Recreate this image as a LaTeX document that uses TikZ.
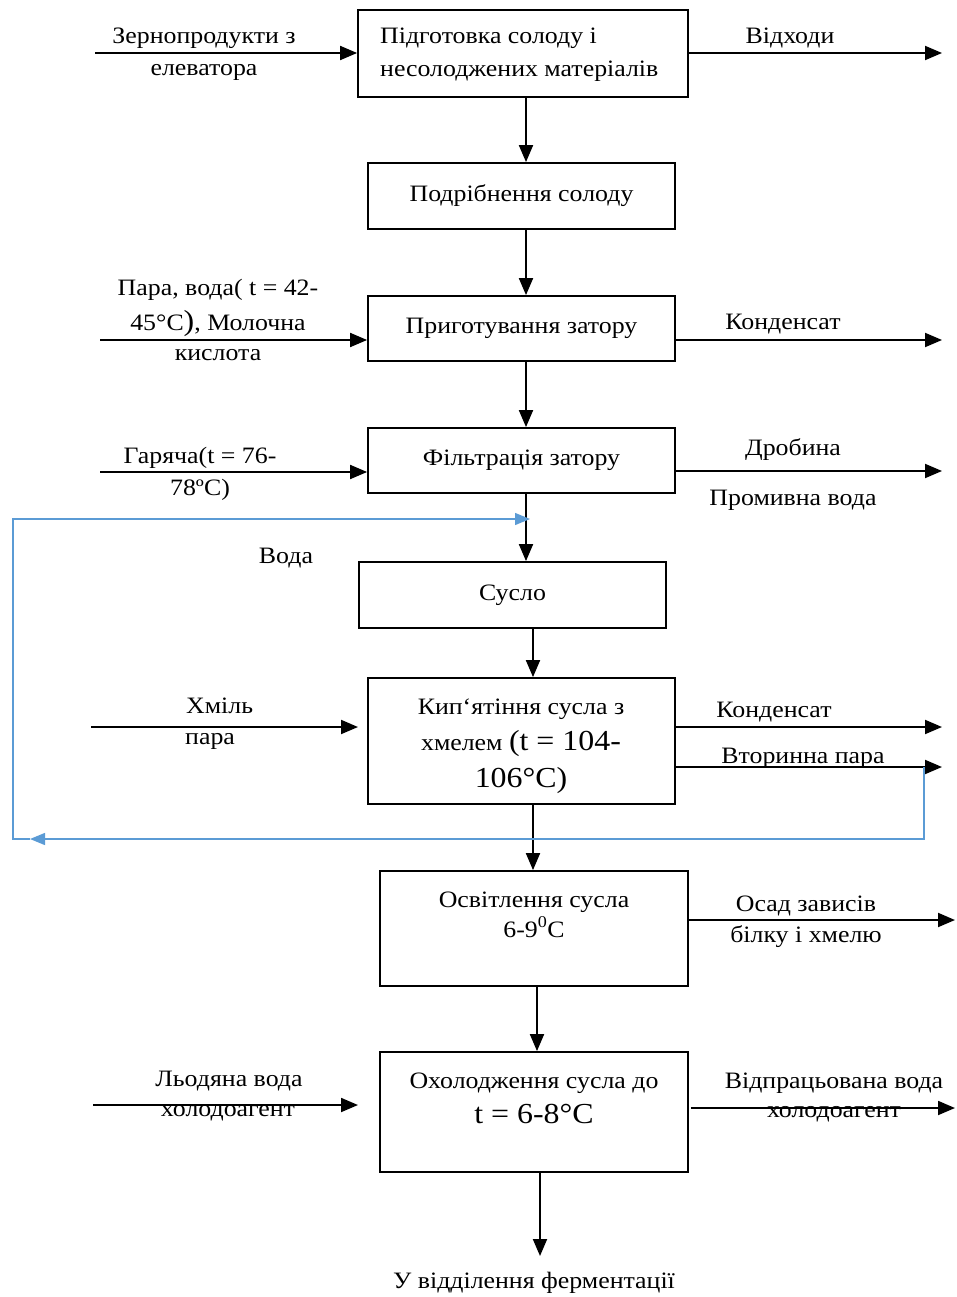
\documentclass[tikz,border=0pt]{standalone}
\usepackage{fontspec}
\setmainfont{Liberation Serif}[FakeStretch=1.1]
\usetikzlibrary{arrows.meta}
\newcommand{\fsn}{\fontsize{23.5}{34}\selectfont}
\newcommand{\fsb}{\fontsize{29}{34}\selectfont}
\definecolor{loopblue}{RGB}{91,155,213}
\begin{document}
\begin{tikzpicture}[x=1pt,y=-1pt,
  box/.style={draw,line width=1.8pt,inner sep=0pt,font=\fsn},
  arr/.style={line width=1.9pt,-{Triangle[length=17pt,width=14pt]}},
  barr/.style={line width=1.3pt,draw=loopblue,-{Triangle[length=15pt,width=12pt]}},
  lbl/.style={anchor=base,inner sep=0pt,font=\fsn},
  lblw/.style={anchor=base west,inner sep=0pt,font=\fsn}]
\useasboundingbox (0,0) rectangle (957,1297);

% boxes
\node[box,minimum width=330pt,minimum height=87pt] (b1) at (523,53.5) {};
\node[box,minimum width=307pt,minimum height=66pt] (b2) at (521.5,196) {Подрібнення солоду};
\node[box,minimum width=307pt,minimum height=65pt] (b3) at (521.5,328.5) {Приготування затору};
\node[box,minimum width=307pt,minimum height=65pt] (b4) at (521.5,460.5) {Фільтрація затору};
\node[box,minimum width=307pt,minimum height=66pt] (b5) at (512.5,595) {Сусло};
\node[box,minimum width=307pt,minimum height=126pt] (b6) at (521.5,741) {};
\node[box,minimum width=308pt,minimum height=115pt] (b7) at (534,928.5) {};
\node[box,minimum width=308pt,minimum height=120pt] (b8) at (534,1112) {};

% box texts
\node[lblw] (t1a) at (380,44) {Підготовка солоду і};
\node[lblw] (t1b) at (380,77) {несолоджених матеріалів};
\node[lbl] (t6a) at (521,714) {Кип‘ятіння сусла з};
\node[lbl] (t6b) at (521,750) {хмелем {\fsb(t = 104-}};
\node[lbl] (t6c) at (521,787) {\fsb 106°C)};
\node[lbl] (t7a) at (534,907) {Освітлення сусла};
\node[lbl] (t7b) at (534,937) {6-9\textsuperscript{0}C};
\node[lbl] (t8a) at (534,1088) {Охолодження сусла до};
\node[lbl] (t8b) at (534,1123) {\fsb t = 6-8°C};

% free ends
\coordinate (i1) at (95,53);
\coordinate (o1) at (942,53);
\coordinate (i3) at (100,340);
\coordinate (o3) at (942,340);
\coordinate (i4) at (100,472);
\coordinate (o4) at (942,471);
\coordinate (i6) at (91,727);
\coordinate (e6) at (358,727);
\coordinate (o6a) at (942,727);
\coordinate (o6b) at (942,767);
\coordinate (o7) at (955,920);
\coordinate (i8) at (93,1105);
\coordinate (e8) at (358,1105);
\coordinate (o8) at (955,1108);
\coordinate (o9) at (540,1256);

% main flow
\draw[arr] ([xshift=3pt]b1.south) -- ([xshift=4.5pt]b2.north);
\draw[arr] ([xshift=4.5pt]b2.south) -- ([xshift=4.5pt]b3.north);
\draw[arr] ([xshift=4.5pt]b3.south) -- ([xshift=4.5pt]b4.north);
\draw[arr] ([xshift=4.5pt]b4.south) -- ([xshift=13.5pt]b5.north);
\draw[arr] ([xshift=20.5pt]b5.south) -- ([xshift=11.5pt]b6.north);
\draw[arr] ([xshift=11.5pt]b6.south) -- ([xshift=-1pt]b7.north);
\draw[arr] ([xshift=3pt]b7.south) -- ([xshift=3pt]b8.north);
\draw[arr] ([xshift=6pt]b8.south) -- (o9);

% side streams
\draw[arr] (i1) -- (i1 -| b1.west);
\draw[arr] (o1 -| b1.east) -- (o1);
\draw[arr] (i3) -- (i3 -| b3.west);
\draw[arr] (b3.east |- o3) -- (o3);
\draw[arr] (i4) -- (i4 -| b4.west);
\draw[arr] (b4.east |- o4) -- (o4);
\draw[arr] (i6) -- (e6);
\draw[arr] (b6.east |- o6a) -- (o6a);
\draw[arr] (b6.east |- o6b) -- (o6b);
\draw[arr] (b7.east |- o7) -- (o7);
\draw[arr] (i8) -- (e8);
\draw[arr] ([xshift=2pt]b8.east |- o8) -- (o8);

% blue loop
\coordinate (lr) at (924,767);
\coordinate (lba) at (30,839);
\coordinate (lbl) at (13,839);
\coordinate (lta) at (530,519);
\draw[barr] (lr) |- (lba);
\draw[barr] (lba) -- (lbl) |- (lta);

% labels
\node[lbl] at (204,44) {Зернопродукти з};
\node[lbl] at (204,76) {елеватора};
\node[lbl] at (790,44) {Відходи};
\node[lbl] at (218,295) {Пара, вода( t = 42-};
\node[lbl] at (218,330) {45°C{\fsb)}, Молочна};
\node[lbl] at (218,360) {кислота};
\node[lbl] at (783,329) {Конденсат};
\node[lbl] at (200,463) {Гаряча(t = 76-};
\node[lbl] at (200,495) {78ºC)};
\node[lbl] at (793,455) {Дробина};
\node[lbl] at (793,505) {Промивна вода};
\node[lbl] at (286,563) {Вода};
\node[lblw] at (186,713) {Хміль};
\node[lblw] at (185,744) {пара};
\node[lbl] at (774,717) {Конденсат};
\node[lbl] at (803,763) {Вторинна пара};
\node[lbl] at (806,911) {Осад зависів};
\node[lbl] at (806,942) {білку і хмелю};
\node[lbl] at (229,1086) {Льодяна вода};
\node[lbl] at (228,1116) {холодоагент};
\node[lbl] at (834,1088) {Відпрацьована вода};
\node[lbl] at (834,1117) {холодоагент};
\node[lbl] at (534,1288) {У відділення ферментації};
\end{tikzpicture}
\end{document}
